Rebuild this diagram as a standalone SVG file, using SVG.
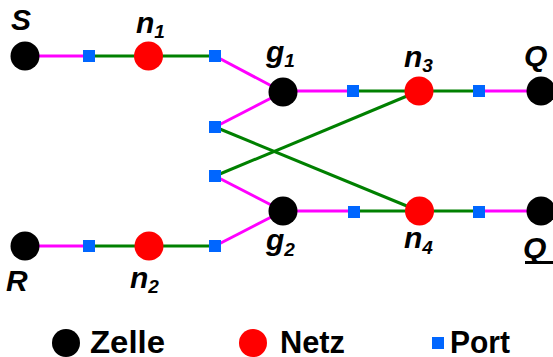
<svg xmlns="http://www.w3.org/2000/svg" width="553" height="357" viewBox="0 0 553 357">
<style>
.cell{fill:#000}
.net{fill:#ff0000}
.port{fill:#0066ff}
.m{stroke:#ff00ff;stroke-width:3;fill:none}
.g{stroke:#008000;stroke-width:3;fill:none}
.lbl{font-family:"Liberation Sans",Arial,sans-serif;font-weight:bold;font-style:italic;font-size:30px;fill:#000}
.sub{font-size:19px}
.leg{font-family:"Liberation Sans",Arial,sans-serif;font-weight:bold;font-size:31px;fill:#000}
</style>
<g id="connectors">
<line class="m" x1="25" y1="56" x2="89" y2="56"/>
<line class="g" x1="89" y1="56" x2="215" y2="56"/>
<line class="m" x1="215" y1="56" x2="283" y2="92"/>
<line class="m" x1="215" y1="127" x2="283" y2="92"/>
<line class="g" x1="215" y1="127" x2="419" y2="211"/>
<line class="m" x1="215" y1="176" x2="283" y2="211"/>
<line class="g" x1="215" y1="176" x2="419" y2="91"/>
<line class="m" x1="215" y1="246" x2="283" y2="211"/>
<line class="m" x1="25" y1="246" x2="89" y2="246"/>
<line class="g" x1="89" y1="246" x2="215" y2="246"/>
<line class="m" x1="283" y1="91" x2="353" y2="91"/>
<line class="g" x1="353" y1="91" x2="479" y2="91"/>
<line class="m" x1="479" y1="91" x2="541" y2="91"/>
<line class="m" x1="283" y1="211" x2="354" y2="211"/>
<line class="g" x1="354" y1="211" x2="479" y2="211"/>
<line class="m" x1="479" y1="211" x2="541" y2="211"/>
</g>
<g id="S"><circle class="cell" cx="25" cy="56" r="14.5"/><text class="lbl" x="11" y="30">S</text></g>
<g id="R"><circle class="cell" cx="25" cy="246" r="14.5"/><text class="lbl" x="6" y="291">R</text></g>
<g id="n1"><circle class="net" cx="148.5" cy="56" r="14.5"/><text class="lbl" x="136" y="33">n<tspan class="sub" dy="5">1</tspan></text></g>
<g id="n2"><circle class="net" cx="149" cy="246" r="14.5"/><text class="lbl" x="130" y="288">n<tspan class="sub" dy="5">2</tspan></text></g>
<g id="g1"><circle class="cell" cx="283" cy="92" r="14.5"/><text class="lbl" x="266" y="62">g<tspan class="sub" dy="5">1</tspan></text></g>
<g id="g2"><circle class="cell" cx="283" cy="211" r="14.5"/><text class="lbl" x="266" y="250">g<tspan class="sub" dy="6">2</tspan></text></g>
<g id="n3"><circle class="net" cx="419" cy="91" r="14.5"/><text class="lbl" x="404" y="67">n<tspan class="sub" dy="5">3</tspan></text></g>
<g id="n4"><circle class="net" cx="419.5" cy="211" r="14.5"/><text class="lbl" x="404" y="248">n<tspan class="sub" dy="6">4</tspan></text></g>
<g id="Q"><circle class="cell" cx="541" cy="91" r="14.5"/><text class="lbl" x="524" y="66">Q</text></g>
<g id="Qbar"><circle class="cell" cx="541" cy="211" r="14.5"/><text class="lbl" x="523" y="258">Q</text><rect x="525" y="261" width="28" height="3" fill="#000"/></g>
<g id="ports">
<rect class="port" x="83" y="50" width="12" height="12"/>
<rect class="port" x="209" y="50" width="12" height="12"/>
<rect class="port" x="209" y="121" width="12" height="12"/>
<rect class="port" x="209" y="170" width="12" height="12"/>
<rect class="port" x="83" y="240" width="12" height="12"/>
<rect class="port" x="209" y="240" width="12" height="12"/>
<rect class="port" x="347" y="85" width="12" height="12"/>
<rect class="port" x="473" y="85" width="12" height="12"/>
<rect class="port" x="348" y="206" width="12" height="12"/>
<rect class="port" x="473" y="206" width="12" height="12"/>
</g>
<g id="legend">
<circle class="cell" cx="66" cy="343" r="14"/><text class="leg" x="90" y="353" textLength="75" lengthAdjust="spacingAndGlyphs">Zelle</text>
<circle class="net" cx="253" cy="343" r="14"/><text class="leg" x="280" y="353" textLength="65" lengthAdjust="spacingAndGlyphs">Netz</text>
<rect class="port" x="432" y="337" width="12" height="12"/><text class="leg" x="450" y="353" textLength="60" lengthAdjust="spacingAndGlyphs">Port</text>
</g>
</svg>
